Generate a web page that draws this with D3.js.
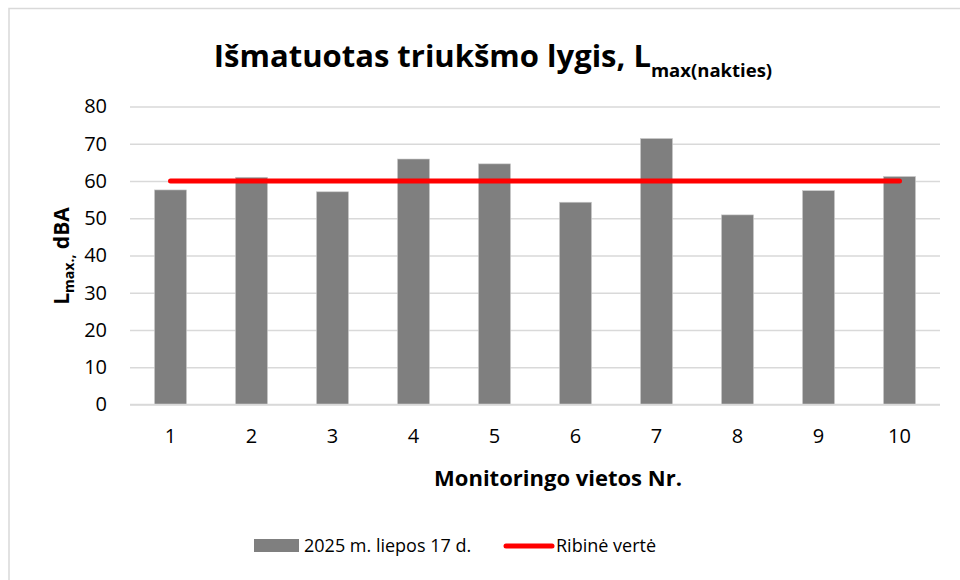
<!DOCTYPE html>
<html>
<head>
<meta charset="utf-8">
<script src="https://cdn.jsdelivr.net/npm/d3@7"></script>
<style>
  body { margin: 0; background: #fff; }
  svg { font-family: "Open Sans", sans-serif; }
</style>
</head>
<body>
<svg width="960" height="580"></svg>
<script>
// data
let sites = ["1","2","3","4","5","6","7","8","9","10"],
    measured = [57.6, 61.0, 57.1, 65.9, 64.6, 54.3, 71.4, 50.9, 57.4, 61.2],
    limit = [60, 60, 60, 60, 60, 60, 60, 60, 60, 60],
    yTicks = [0, 10, 20, 30, 40, 50, 60, 70, 80],
    seriesName = "2025 m. liepos 17 d.",
    limitName = "Ribinė vertė";

let width = 960, height = 580,
    margin = {top: 106.5, right: 20, bottom: 175.5, left: 130},
    plotW = width - margin.left - margin.right,
    plotH = height - margin.top - margin.bottom,
    svg = d3.select("svg");

// chart frame
svg.append("rect")
   .attr("x", 9).attr("y", 8.5)
   .attr("width", 960).attr("height", 600)
   .attr("fill", "#fff")
   .attr("stroke", "#d9d9d9")
   .attr("stroke-width", 1.5);

let xScale = d3.scaleBand().domain(sites).range([0, plotW]),
    yScale = d3.scaleLinear().domain([0, 80]).range([plotH, 0]);

let step = xScale.step(),
    xc = d => xScale(d) + step / 2,
    barW = step * 0.395;

let g = svg.append("g").attr("transform", `translate(${margin.left},${margin.top})`);

// gridlines
g.append("g")
 .call(d3.axisLeft(yScale).tickValues(yTicks).tickSize(-plotW).tickFormat(""))
 .call(a => a.select(".domain").remove())
 .call(a => a.selectAll("line").attr("stroke", "#d9d9d9").attr("stroke-width", 1.3));

// y tick labels
g.append("g")
 .call(d3.axisLeft(yScale).tickValues(yTicks).tickSize(0).tickPadding(23))
 .call(a => a.select(".domain").remove())
 .call(a => a.selectAll("text").attr("font-size", 20).attr("fill", "#000").attr("font-family", "Open Sans"));

// bars
g.selectAll(".bar")
 .data(measured)
 .enter()
 .append("rect")
 .classed("bar", true)
 .attr("x", (d, i) => xc(sites[i]) - barW / 2)
 .attr("y", d => yScale(d))
 .attr("width", barW)
 .attr("height", d => plotH - yScale(d))
 .attr("fill", "#7f7f7f")
 .attr("stroke", "#c8c8c8")
 .attr("stroke-width", 0.6);

// x axis
g.append("g")
 .attr("transform", `translate(0,${plotH})`)
 .call(d3.axisBottom(xScale).tickSize(0).tickPadding(24))
 .call(a => a.select(".domain").attr("stroke", "#d9d9d9").attr("stroke-width", 1.3).attr("d", `M0,0H${plotW}`))
 .call(a => a.selectAll("text").attr("font-size", 20).attr("fill", "#000").attr("font-family", "Open Sans"));

// limit line
let line = d3.line().x((d, i) => xc(sites[i])).y(d => yScale(d));
g.append("path")
 .datum(limit)
 .attr("d", line)
 .attr("fill", "none")
 .attr("stroke", "#ff0000")
 .attr("stroke-width", 5)
 .attr("stroke-linecap", "round");

// title
let title = svg.append("text")
   .attr("x", 493).attr("y", 67)
   .attr("text-anchor", "middle")
   .attr("font-size", 31).attr("font-weight", "bold");
title.append("tspan").text("Išmatuotas triukšmo lygis, L");
title.append("tspan").attr("font-size", 18.5).attr("dy", 10).text("max(nakties)");

// axis titles
svg.append("text")
   .attr("x", 558).attr("y", 486)
   .attr("text-anchor", "middle")
   .attr("font-size", 22).attr("font-weight", "bold")
   .text("Monitoringo vietos Nr.");

let yt = svg.append("text")
   .attr("transform", "translate(69,256) rotate(-90)")
   .attr("text-anchor", "middle")
   .attr("font-size", 21).attr("font-weight", "bold");
yt.append("tspan").text("L");
yt.append("tspan").attr("font-size", 14).attr("dy", 5).text("max.,");
yt.append("tspan").attr("dy", -5).text(" dBA");

// legend
let leg = svg.append("g");
leg.append("rect").attr("x", 254).attr("y", 539).attr("width", 45).attr("height", 13).attr("fill", "#7f7f7f");
leg.append("text").attr("x", 304).attr("y", 552).attr("font-size", 18).text(seriesName);
leg.append("line").attr("x1", 506).attr("x2", 552).attr("y1", 546).attr("y2", 546)
   .attr("stroke", "#ff0000").attr("stroke-width", 5).attr("stroke-linecap", "round");
leg.append("text").attr("x", 556).attr("y", 552).attr("font-size", 18).text(limitName);
</script>
</body>
</html>
